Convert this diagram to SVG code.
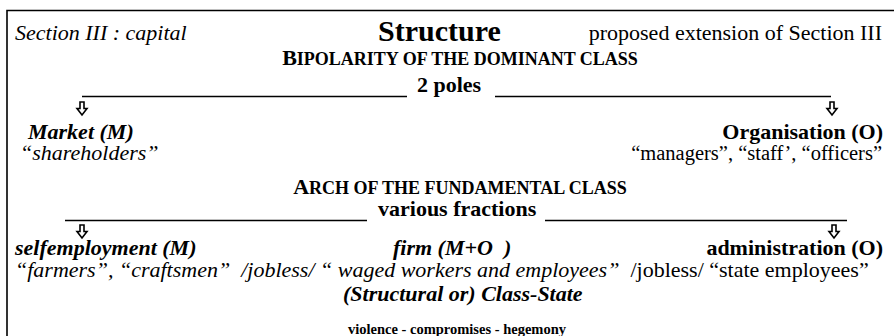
<svg xmlns="http://www.w3.org/2000/svg" width="894" height="336" viewBox="0 0 894 336" font-family="Liberation Serif, Times New Roman, serif">
<style>
text{font-family:"Liberation Serif","Times New Roman",serif;fill:#000;font-size:22px}
.i{font-style:italic}
.b{font-weight:bold}
.bi{font-weight:bold;font-style:italic}
.sc{font-size:18px}
.frame{stroke:#000;stroke-width:1.6;fill:none}
.rule{stroke:#000;stroke-width:1.3}
.arr{fill:#fff;stroke:#000;stroke-width:1.6;stroke-linejoin:miter}
</style>
<defs>
<path id="dn" class="arr" d="M-2 0h4v6.5h3l-5 6.5l-5-6.5h3z"/>
</defs>
<rect width="894" height="336" fill="#fff"/>
<path class="frame" d="M7 336V10.5H894"/>

<g id="header">
<text class="i" x="15" y="40">Section III : capital</text>
<text class="b" x="378" y="41" style="font-size:30px">Structure</text>
<text x="882" y="40" text-anchor="end">proposed extension of Section III</text>
</g>

<g id="bipolarity">
<text class="b" x="460" y="65" text-anchor="middle">B<tspan class="sc">IPOLARITY OF THE DOMINANT CLASS</tspan></text>
<text class="b" x="417" y="92">2 poles</text>
</g>

<g id="market">
<text class="bi" x="28" y="139">Market (M)</text>
<text class="i" x="20" y="160">“shareholders”</text>
</g>

<g id="organisation">
<text class="b" x="883" y="139" text-anchor="end">Organisation (O)</text>
<text x="882" y="160" text-anchor="end" style="font-size:20.5px">“managers”, “staff’, “officers”</text>
</g>

<g id="arch">
<text class="b" x="460" y="194" text-anchor="middle">A<tspan class="sc">RCH OF THE FUNDAMENTAL CLASS</tspan></text>
<text class="b" x="378" y="216">various fractions</text>
</g>

<g id="selfemployment">
<text class="bi" x="15" y="255">selfemployment (M)</text>
</g>
<g id="firm">
<text class="bi" x="393" y="255" xml:space="preserve">firm (M+O  )</text>
</g>
<g id="administration">
<text class="b" x="883" y="255" text-anchor="end">administration (O)</text>
</g>
<g id="fractions-labels">
<text x="15" y="277" xml:space="preserve"><tspan class="i">“farmers”, “craftsmen”  /jobless/ “ waged workers and employees”</tspan>  /jobless/ “state employees”</text>
</g>

<g id="state">
<text class="bi" x="343" y="301">(Structural or) Class-State</text>
<text class="b" x="348" y="334" style="font-size:14.5px">violence - compromises - hegemony</text>
</g>

<g id="connectors">
<line class="rule" x1="82" y1="96.5" x2="407" y2="96.5"/>
<line class="rule" x1="495" y1="96.5" x2="831" y2="96.5"/>
<use href="#dn" x="82" y="102"/>
<use href="#dn" x="832" y="102"/>
<line class="rule" x1="65" y1="220.5" x2="367" y2="220.5"/>
<line class="rule" x1="545" y1="220.5" x2="847" y2="220.5"/>
<use href="#dn" x="82" y="225"/>
<use href="#dn" x="834" y="225"/>
</g>
</svg>
